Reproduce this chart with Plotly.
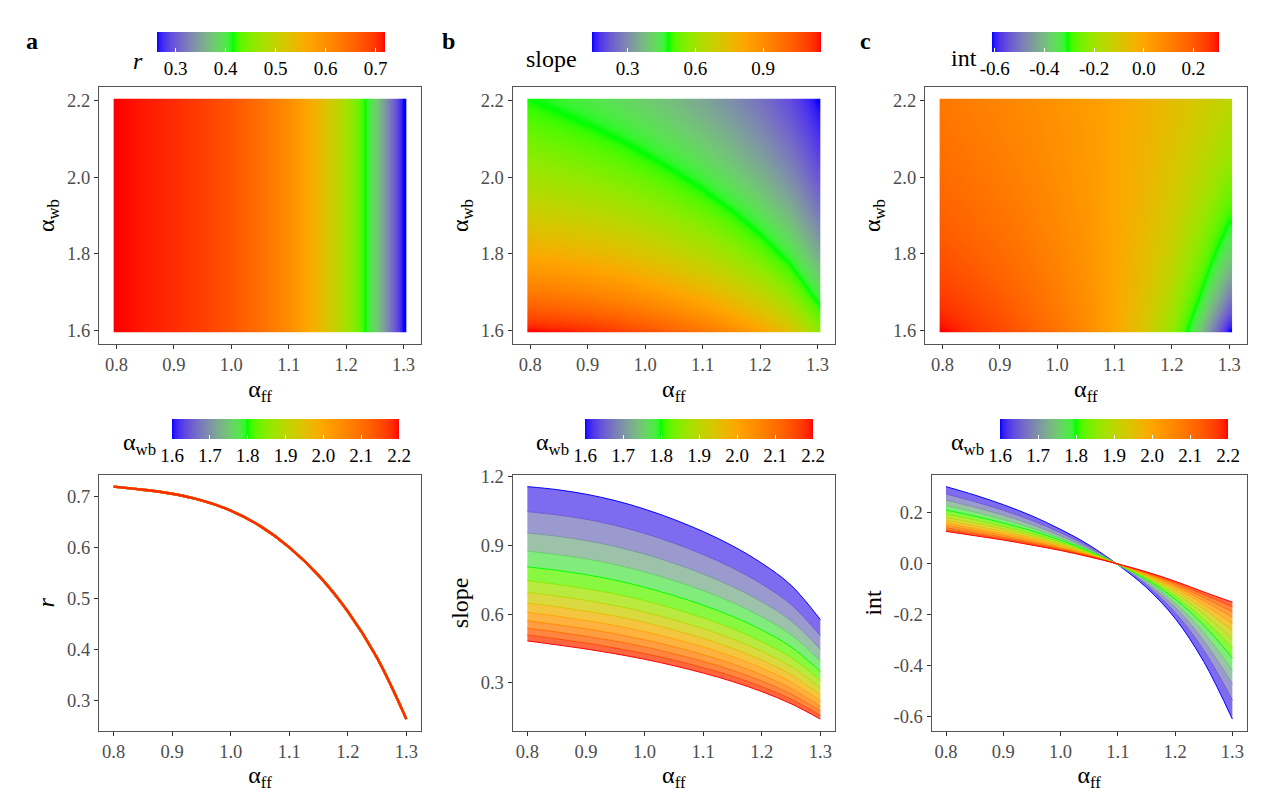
import plotly.graph_objects as go

# ---------------- data ----------------
AFF = [0.80, 0.85, 0.90, 0.95, 1.00, 1.05, 1.10, 1.15, 1.20, 1.25, 1.30]
AWB = [1.60, 1.65, 1.70, 1.75, 1.80, 1.85, 1.90, 1.95, 2.00, 2.05, 2.10, 2.15, 2.20]

R = [0.719, 0.713, 0.705, 0.692, 0.672, 0.642, 0.600, 0.545, 0.474, 0.383, 0.263]

SLOPE = [
    [1.156, 1.143, 1.123, 1.095, 1.058, 1.013, 0.960, 0.898, 0.822, 0.726, 0.576],
    [1.047, 1.033, 1.014, 0.987, 0.952, 0.910, 0.860, 0.802, 0.731, 0.642, 0.506],
    [0.954, 0.940, 0.921, 0.895, 0.862, 0.822, 0.775, 0.720, 0.654, 0.571, 0.446],
    [0.875, 0.860, 0.841, 0.816, 0.784, 0.746, 0.702, 0.651, 0.588, 0.510, 0.395],
    [0.806, 0.791, 0.772, 0.748, 0.717, 0.681, 0.639, 0.590, 0.531, 0.457, 0.350],
    [0.746, 0.730, 0.711, 0.688, 0.659, 0.624, 0.584, 0.537, 0.480, 0.411, 0.311],
    [0.694, 0.679, 0.660, 0.637, 0.609, 0.575, 0.537, 0.492, 0.438, 0.371, 0.278],
    [0.648, 0.632, 0.613, 0.591, 0.564, 0.531, 0.494, 0.451, 0.399, 0.336, 0.248],
    [0.607, 0.591, 0.572, 0.550, 0.524, 0.492, 0.457, 0.415, 0.365, 0.304, 0.222],
    [0.571, 0.554, 0.536, 0.514, 0.488, 0.458, 0.423, 0.383, 0.335, 0.276, 0.198],
    [0.538, 0.522, 0.503, 0.482, 0.457, 0.427, 0.394, 0.355, 0.308, 0.251, 0.178],
    [0.509, 0.492, 0.474, 0.452, 0.428, 0.399, 0.366, 0.329, 0.283, 0.229, 0.159],
    [0.483, 0.466, 0.448, 0.427, 0.403, 0.375, 0.343, 0.306, 0.262, 0.209, 0.142],
]

INTC = [
    [0.303, 0.270, 0.232, 0.188, 0.135, 0.073, -0.004, -0.094, -0.215, -0.385, -0.611],
    [0.274, 0.244, 0.210, 0.170, 0.122, 0.066, -0.003, -0.084, -0.192, -0.340, -0.536],
    [0.250, 0.222, 0.191, 0.154, 0.110, 0.059, -0.003, -0.076, -0.171, -0.303, -0.473],
    [0.229, 0.203, 0.174, 0.140, 0.100, 0.054, -0.003, -0.068, -0.154, -0.270, -0.419],
    [0.211, 0.187, 0.160, 0.129, 0.092, 0.049, -0.003, -0.062, -0.139, -0.242, -0.371],
    [0.195, 0.172, 0.147, 0.118, 0.084, 0.045, -0.002, -0.056, -0.126, -0.218, -0.330],
    [0.182, 0.160, 0.137, 0.110, 0.078, 0.041, -0.002, -0.052, -0.115, -0.197, -0.295],
    [0.170, 0.149, 0.127, 0.102, 0.072, 0.038, -0.002, -0.047, -0.105, -0.178, -0.263],
    [0.159, 0.139, 0.118, 0.095, 0.067, 0.035, -0.002, -0.044, -0.096, -0.161, -0.235],
    [0.150, 0.131, 0.111, 0.088, 0.062, 0.033, -0.002, -0.040, -0.088, -0.146, -0.210],
    [0.141, 0.123, 0.104, 0.083, 0.058, 0.031, -0.002, -0.037, -0.081, -0.133, -0.189],
    [0.133, 0.116, 0.098, 0.078, 0.055, 0.029, -0.001, -0.035, -0.074, -0.121, -0.169],
    [0.127, 0.110, 0.093, 0.073, 0.052, 0.027, -0.001, -0.032, -0.069, -0.111, -0.151],
]

X_TICKS = [0.8, 0.9, 1.0, 1.1, 1.2, 1.3]
X_TICKTEXT = ["0.8", "0.9", "1.0", "1.1", "1.2", "1.3"]
AWB_TICKS = [1.6, 1.8, 2.0, 2.2]
AWB_TICKTEXT = ["1.6", "1.8", "2.0", "2.2"]
AWB_CB_TICKS = [1.6, 1.7, 1.8, 1.9, 2.0, 2.1, 2.2]
AWB_CB_TICKTEXT = ["1.6", "1.7", "1.8", "1.9", "2.0", "2.1", "2.2"]
R_TICKS = [0.3, 0.4, 0.5, 0.6, 0.7]
R_TICKTEXT = ["0.3", "0.4", "0.5", "0.6", "0.7"]
SLOPE_CB_TICKS = [0.3, 0.6, 0.9]
SLOPE_CB_TICKTEXT = ["0.3", "0.6", "0.9"]
SLOPE_TICKS = [0.3, 0.6, 0.9, 1.2]
SLOPE_TICKTEXT = ["0.3", "0.6", "0.9", "1.2"]
INT_CB_TICKS = [-0.6, -0.4, -0.2, 0.0, 0.2]
INT_CB_TICKTEXT = ["-0.6", "-0.4", "-0.2", "0.0", "0.2"]
INT_TICKS = [-0.6, -0.4, -0.2, 0.0, 0.2]
INT_TICKTEXT = ["-0.6", "-0.4", "-0.2", "0.0", "0.2"]

# ---------------- colour ramp (Lab interpolation, like ggplot) ----------------
ANCHORS = [(0, 0, 255), (0, 255, 0), (255, 165, 0), (255, 0, 0)]
XN, YN, ZN = 0.95047, 1.0, 1.08883


def _s2l(c):
    c = c / 255.0
    return c / 12.92 if c <= 0.04045 else ((c + 0.055) / 1.055) ** 2.4


def _l2s(c):
    c = max(0.0, min(1.0, c))
    v = 12.92 * c if c <= 0.0031308 else 1.055 * c ** (1 / 2.4) - 0.055
    return int(round(max(0.0, min(1.0, v)) * 255))


def _f(t):
    d = 6 / 29
    return t ** (1 / 3) if t > d ** 3 else t / (3 * d * d) + 4 / 29


def _finv(t):
    d = 6 / 29
    return t ** 3 if t > d else 3 * d * d * (t - 4 / 29)


def rgb2lab(rgb):
    r, g, b = [_s2l(v) for v in rgb]
    X = 0.4124 * r + 0.3576 * g + 0.1805 * b
    Y = 0.2126 * r + 0.7152 * g + 0.0722 * b
    Z = 0.0193 * r + 0.1192 * g + 0.9505 * b
    fx, fy, fz = _f(X / XN), _f(Y / YN), _f(Z / ZN)
    return (116 * fy - 16, 500 * (fx - fy), 200 * (fy - fz))


def lab2rgb(lab):
    L, a, b = lab
    fy = (L + 16) / 116
    fx = fy + a / 500
    fz = fy - b / 200
    X, Y, Z = XN * _finv(fx), YN * _finv(fy), ZN * _finv(fz)
    r = 3.2406 * X - 1.5372 * Y - 0.4986 * Z
    g = -0.9689 * X + 1.8758 * Y + 0.0415 * Z
    bb = 0.0557 * X - 0.2040 * Y + 1.0570 * Z
    return (_l2s(r), _l2s(g), _l2s(bb))


LABS = [rgb2lab(c) for c in ANCHORS]


def ramp_rgb(t):
    t = max(0.0, min(1.0, t))
    n = len(LABS) - 1
    seg = min(int(t * n), n - 1)
    u = t * n - seg
    a, b = LABS[seg], LABS[seg + 1]
    lab = tuple(a[k] + (b[k] - a[k]) * u for k in range(3))
    return lab2rgb(lab)


def ramp(t, alpha=1.0):
    r, g, b = ramp_rgb(t)
    if alpha >= 1:
        return f"rgb({r},{g},{b})"
    return f"rgba({r},{g},{b},{alpha})"


CS = [[i / 90, ramp(i / 90)] for i in range(91)]

SERIF = "Liberation Serif, Times New Roman, serif"
W, H = 1284, 804


def px(x):
    return x / W


def py(y):
    return 1 - y / H


fig = go.Figure()

# ---------------- top row heat maps (cells centred on the grid points) ----------------
fig.add_trace(go.Heatmap(x=AFF, y=AWB, z=[R for _ in AWB], coloraxis="coloraxis",
                         zsmooth="best", xaxis="x", yaxis="y", hoverinfo="skip"))
fig.add_trace(go.Heatmap(x=AFF, y=AWB, z=SLOPE, coloraxis="coloraxis2",
                         zsmooth="best", xaxis="x2", yaxis="y2", hoverinfo="skip"))
fig.add_trace(go.Heatmap(x=AFF, y=AWB, z=INTC, coloraxis="coloraxis3",
                         zsmooth="best", xaxis="x3", yaxis="y3", hoverinfo="skip"))

# ---------------- bottom row line plots ----------------
awb_min, awb_max = min(AWB), max(AWB)


def tnorm(a):
    return (a - awb_min) / (awb_max - awb_min)


for i, a in enumerate(AWB):
    fig.add_trace(go.Scatter(x=AFF, y=R, mode="lines", xaxis="x4", yaxis="y4",
                             line=dict(color=ramp(tnorm(a), 0.55), width=2.4, shape="spline"),
                             showlegend=False, hoverinfo="skip"))

for panel, data in (("5", SLOPE), ("6", INTC)):
    for i, a in enumerate(AWB):
        kw = {}
        if i > 0:
            kw = dict(fill="tonexty",
                      fillcolor=ramp((tnorm(a) + tnorm(AWB[i - 1])) / 2, 0.75))
        fig.add_trace(go.Scatter(x=AFF, y=data[i], mode="lines",
                                 xaxis="x" + panel, yaxis="y" + panel,
                                 line=dict(color=ramp(tnorm(a)), width=1.0, shape="spline"),
                                 showlegend=False, hoverinfo="skip", **kw))

# dummy traces carrying the alpha_wb colour bars
for k in (4, 5, 6):
    fig.add_trace(go.Scatter(x=[1.0, 1.0], y=[None, None], mode="markers",
                             xaxis=f"x{k}", yaxis=f"y{k}",
                             marker=dict(color=[awb_min, awb_max], coloraxis=f"coloraxis{k}",
                                         size=1, opacity=0),
                             showlegend=False, hoverinfo="skip"))


def cbar(x0, x1, ytop, tickvals, ticktext):
    return dict(orientation="h", x=px((x0 + x1) / 2), xanchor="center",
                y=py(ytop), yanchor="top", len=x1 - x0, lenmode="pixels",
                thickness=20, thicknessmode="pixels", outlinewidth=0,
                xpad=0, ypad=0, tickvals=tickvals, ticktext=ticktext,
                ticks="inside", ticklen=4, tickcolor="white", tickwidth=1,
                tickfont=dict(family=SERIF, size=19, color="black"))


def cax(vmin, vmax, bar):
    return dict(colorscale=CS, cmin=vmin, cmax=vmax, colorbar=bar)


r_min, r_max = min(R), max(R)
s_min = min(min(r) for r in SLOPE)
s_max = max(max(r) for r in SLOPE)
i_min = min(min(r) for r in INTC)
i_max = max(max(r) for r in INTC)

TICKFONT = dict(family=SERIF, size=18.5, color="#4D4D4D")
TITLEFONT = dict(family=SERIF, size=24, color="black")


def axis(domain, rng, tickvals, ticktext, title, anchor):
    return dict(domain=domain, range=rng, tickvals=tickvals, ticktext=ticktext,
                showgrid=False, zeroline=False, showline=True, mirror=True,
                linecolor="#555555", linewidth=1.3, ticks="outside", ticklen=4,
                tickwidth=1.3, tickcolor="#333333", tickfont=TICKFONT,
                title=dict(text=title, font=TITLEFONT, standoff=5), anchor=anchor)


def pad(lo, hi, f=0.05):
    d = (hi - lo) * f
    return [lo - d, hi + d]


top_y = [py(339.3), py(80)]
bot_y = [py(730), py(471.7)]
dom_a = [px(99), px(421)]
dom_b = [px(512.7), px(835)]
dom_c = [px(925), px(1246.7)]
dom_c2 = [px(931.7), px(1246.7)]

# heat-map tiles are 0.01 wide in the reference
half = 0.005
tile_x = [min(AFF) - half, max(AFF) + half]
tile_y = [min(AWB) - half, max(AWB) + half]
hx = pad(*tile_x)
hy = pad(*tile_y)
lx = pad(min(AFF), max(AFF))

AFF_T = "α<sub>ff</sub>"
AWB_T = "α<sub>wb</sub>"

fig.update_layout(
    width=W, height=H, margin=dict(l=0, r=0, t=0, b=0),
    paper_bgcolor="white", plot_bgcolor="white",
    font=dict(family=SERIF),
    xaxis=axis(dom_a, hx, X_TICKS, X_TICKTEXT, AFF_T, "y"),
    yaxis=axis(top_y, hy, AWB_TICKS, AWB_TICKTEXT, AWB_T, "x"),
    xaxis2=axis(dom_b, hx, X_TICKS, X_TICKTEXT, AFF_T, "y2"),
    yaxis2=axis(top_y, hy, AWB_TICKS, AWB_TICKTEXT, AWB_T, "x2"),
    xaxis3=axis(dom_c, hx, X_TICKS, X_TICKTEXT, AFF_T, "y3"),
    yaxis3=axis(top_y, hy, AWB_TICKS, AWB_TICKTEXT, AWB_T, "x3"),
    xaxis4=axis(dom_a, lx, X_TICKS, X_TICKTEXT, AFF_T, "y4"),
    yaxis4=axis(bot_y, pad(r_min, r_max), R_TICKS, R_TICKTEXT, "<i>r</i>", "x4"),
    xaxis5=axis(dom_b, lx, X_TICKS, X_TICKTEXT, AFF_T, "y5"),
    yaxis5=axis(bot_y, pad(s_min, s_max), SLOPE_TICKS, SLOPE_TICKTEXT, "slope", "x5"),
    xaxis6=axis(dom_c2, lx, X_TICKS, X_TICKTEXT, AFF_T, "y6"),
    yaxis6=axis(bot_y, pad(i_min, i_max), INT_TICKS, INT_TICKTEXT, "int", "x6"),
    coloraxis=cax(r_min, r_max, cbar(157, 385, 24, R_TICKS, R_TICKTEXT)),
    coloraxis2=cax(s_min, s_max, cbar(592, 821, 24, SLOPE_CB_TICKS, SLOPE_CB_TICKTEXT)),
    coloraxis3=cax(i_min, i_max, cbar(992, 1219, 24, INT_CB_TICKS, INT_CB_TICKTEXT)),
    coloraxis4=cax(awb_min, awb_max, cbar(172, 399, 415, AWB_CB_TICKS, AWB_CB_TICKTEXT)),
    coloraxis5=cax(awb_min, awb_max, cbar(585, 813, 415, AWB_CB_TICKS, AWB_CB_TICKTEXT)),
    coloraxis6=cax(awb_min, awb_max, cbar(1000, 1228, 415, AWB_CB_TICKS, AWB_CB_TICKTEXT)),
)

# white masks: trim the heat maps to the 0.01-wide tile extent of the reference
eps_x = (hx[1] - hx[0]) * 0.004
eps_y = (hy[1] - hy[0]) * 0.005
for k in ("", "2", "3"):
    for (x0, x1, y0, y1) in (
        (hx[0] + eps_x, tile_x[0], hy[0] + eps_y, hy[1] - eps_y),
        (tile_x[1], hx[1] - eps_x, hy[0] + eps_y, hy[1] - eps_y),
        (hx[0] + eps_x, hx[1] - eps_x, hy[0] + eps_y, tile_y[0]),
        (hx[0] + eps_x, hx[1] - eps_x, tile_y[1], hy[1] - eps_y),
    ):
        fig.add_shape(type="rect", xref="x" + k, yref="y" + k, x0=x0, x1=x1, y0=y0, y1=y1,
                      fillcolor="white", line=dict(width=0), layer="above")

annots = [
    dict(text="<b>a</b>", x=px(32), y=py(33)),
    dict(text="<b>b</b>", x=px(448), y=py(33)),
    dict(text="<b>c</b>", x=px(865), y=py(33)),
]
for a in annots:
    a.update(xref="paper", yref="paper", xanchor="center", yanchor="middle",
             showarrow=False, font=dict(family=SERIF, size=24, color="black"))
    fig.add_annotation(**a)

cb_titles = [("<i>r</i>", 145, 54), ("slope", 579, 52), ("int", 979, 51),
             (AWB_T, 158, 440), (AWB_T, 571, 440), (AWB_T, 986, 440)]
for txt, xr, yc in cb_titles:
    fig.add_annotation(text=txt, x=px(xr), y=py(yc), xref="paper", yref="paper",
                       xanchor="right", yanchor="middle", showarrow=False,
                       font=dict(family=SERIF, size=24, color="black"))

fig.write_html("out.html", config={"displayModeBar": False},
               post_script="document.body.style.margin='0px';document.body.style.padding='0px';")
